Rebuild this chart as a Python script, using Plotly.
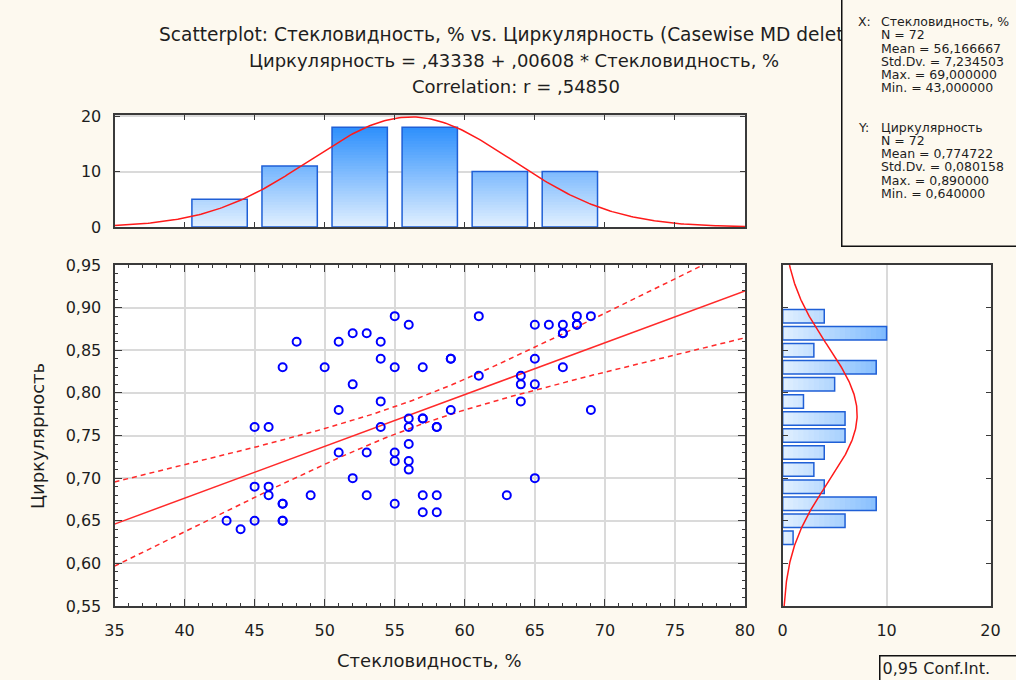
import numpy as np
import plotly.graph_objects as go

# ---------------- data ----------------
glass = [48, 51, 47, 50, 51, 45, 46, 51, 45, 46, 46, 49, 47, 43, 44, 45, 47,
         52, 53, 54, 55, 56, 54, 55, 57, 59, 52, 61, 61, 54, 54, 56, 56, 57, 58, 59,
         53, 55, 55, 56, 56, 56, 52, 53, 55, 57, 58, 57, 58,
         65, 66, 67, 67, 68, 68, 69, 65, 67, 64, 64, 65, 64, 69, 65, 63,
         47, 47, 59, 57, 58, 67, 68]
circ = [0.86, 0.86, 0.83, 0.83, 0.78, 0.76, 0.76, 0.73, 0.69, 0.69, 0.68, 0.68, 0.67, 0.65, 0.64, 0.65, 0.65,
        0.87, 0.87, 0.86, 0.89, 0.88, 0.84, 0.83, 0.83, 0.84, 0.81, 0.89, 0.82, 0.79, 0.76, 0.77, 0.76, 0.77, 0.76, 0.78,
        0.73, 0.73, 0.72, 0.74, 0.72, 0.71, 0.70, 0.68, 0.67, 0.68, 0.68, 0.66, 0.66,
        0.88, 0.88, 0.88, 0.87, 0.89, 0.88, 0.89, 0.84, 0.83, 0.82, 0.81, 0.81, 0.79, 0.78, 0.70, 0.68,
        0.67, 0.65, 0.84, 0.77, 0.76, 0.87, 0.88]

top_bin_centers = [42.5, 47.5, 52.5, 57.5, 62.5, 67.5]
top_counts = [5, 11, 18, 18, 10, 10]

right_bin_centers = [0.63, 0.65, 0.67, 0.69, 0.71, 0.73, 0.75, 0.77, 0.79, 0.81, 0.83, 0.85, 0.87, 0.89]
right_counts = [1, 6, 9, 4, 3, 4, 6, 6, 2, 5, 9, 3, 10, 4]

x_title = "Стекловидность, %"
y_title = "Циркулярность"
# first title line is cut by the statistics box in the original
title_lines = ["Scatterplot: Стекловидность, % vs. Циркулярность (Casewise MD delet",
               "Циркулярность = ,43338 + ,00608 * Стекловидность, %",
               "Correlation: r = ,54850"]
x_stats = ["N = 72", "Mean = 56,166667", "Std.Dv. = 7,234503", "Max. = 69,000000", "Min. = 43,000000"]
y_stats = ["N = 72", "Mean = 0,774722", "Std.Dv. = 0,080158", "Max. = 0,890000", "Min. = 0,640000"]
x_mean, x_sd = 56.166667, 7.234503
y_mean, y_sd = 0.774722, 0.080158
t_crit = 1.994

# ---------------- helpers ----------------
W, H = 1016, 680
BG = "#fdf9ef"
FONT = "DejaVu Sans"
TXT = "#1e1e1e"


def px(x):
    return x / W


def py(y):
    return 1 - y / H


def blend(t):
    c0 = np.array([226, 240, 255])
    c1 = np.array([24, 132, 252])
    c = c0 + (c1 - c0) * max(0.0, min(1.0, t))
    return "rgb(%d,%d,%d)" % tuple(int(round(v)) for v in c)


fig = go.Figure()

# ---------------- scatter + regression ----------------
gx = np.array(glass, float)
cy = np.array(circ, float)
n = len(gx)
slope, inter = np.polyfit(gx, cy, 1)
resid = cy - (inter + slope * gx)
s = np.sqrt(np.sum(resid ** 2) / (n - 2))
sxx = np.sum((gx - gx.mean()) ** 2)
xs = np.linspace(35, 80, 200)
yhat = inter + slope * xs
half = t_crit * s * np.sqrt(1 / n + (xs - gx.mean()) ** 2 / sxx)

RED = "#ff2a2a"
fig.add_trace(go.Scatter(x=xs, y=yhat + half, mode="lines", xaxis="x", yaxis="y",
                         line=dict(color=RED, width=1.5, dash="5px,4px"), hoverinfo="skip"))
fig.add_trace(go.Scatter(x=xs, y=yhat - half, mode="lines", xaxis="x", yaxis="y",
                         line=dict(color=RED, width=1.5, dash="5px,4px"), hoverinfo="skip"))
fig.add_trace(go.Scatter(x=xs, y=yhat, mode="lines", xaxis="x", yaxis="y",
                         line=dict(color=RED, width=1.5), hoverinfo="skip"))
fig.add_trace(go.Scatter(x=glass, y=circ, mode="markers", xaxis="x", yaxis="y",
                         marker=dict(symbol="circle-open", size=8, color="#0000ff",
                                     line=dict(width=2, color="#0000ff"))))

# ---------------- top histogram (vertical gradient bars) ----------------
# each gradient layer runs from its own level up to the bar top, later layers paint over
step = 0.5
seg_x, seg_base, seg_h, seg_c = [], [], [], []
for k in range(int(20.5 / step)):
    lo = k * step
    for xc, cnt in zip(top_bin_centers, top_counts):
        if cnt > lo:
            seg_x.append(xc)
            seg_base.append(lo)
            seg_h.append(cnt - lo)
            seg_c.append(blend((lo + step / 2) / 20))
fig.add_trace(go.Bar(x=seg_x, y=seg_h, base=seg_base, width=3.95, xaxis="x2", yaxis="y2",
                     marker=dict(color=seg_c, line=dict(width=0))))
fig.add_trace(go.Bar(x=top_bin_centers, y=top_counts, width=3.95, xaxis="x2", yaxis="y2",
                     marker=dict(color="rgba(0,0,0,0)", line=dict(width=1.5, color="#1f5fd6"))))
cx = np.linspace(35, 80, 300)
fig.add_trace(go.Scatter(x=cx, y=n * 5 * np.exp(-0.5 * ((cx - x_mean) / x_sd) ** 2) / (x_sd * np.sqrt(2 * np.pi)),
                         mode="lines", xaxis="x2", yaxis="y2", line=dict(color="#ff1a1a", width=1.5)))

# ---------------- right histogram (horizontal gradient bars) ----------------
seg_y, seg_base, seg_w, seg_c = [], [], [], []
for k in range(int(20.5 / step)):
    lo = k * step
    for yc, cnt in zip(right_bin_centers, right_counts):
        if cnt > lo:
            seg_y.append(yc)
            seg_base.append(lo)
            seg_w.append(cnt - lo)
            seg_c.append(blend((lo + step / 2) / 20))
fig.add_trace(go.Bar(y=seg_y, x=seg_w, base=seg_base, width=0.0158, orientation="h",
                     xaxis="x3", yaxis="y3", marker=dict(color=seg_c, line=dict(width=0))))
fig.add_trace(go.Bar(y=right_bin_centers, x=right_counts, width=0.0158, orientation="h",
                     xaxis="x3", yaxis="y3",
                     marker=dict(color="rgba(0,0,0,0)", line=dict(width=1.5, color="#1f5fd6"))))
cyv = np.linspace(0.55, 0.95, 300)
fig.add_trace(go.Scatter(y=cyv, x=n * 0.02 * np.exp(-0.5 * ((cyv - y_mean) / y_sd) ** 2) / (y_sd * np.sqrt(2 * np.pi)),
                         mode="lines", xaxis="x3", yaxis="y3", line=dict(color="#ff1a1a", width=1.5)))

# ---------------- axes ----------------
tickfont = dict(family=FONT, size=16, color=TXT)
frame = dict(showline=True, linecolor="#3a3a3a", linewidth=2, mirror="ticks", zeroline=False,
             ticks="inside", tickcolor="#3a3a3a", tickwidth=1, automargin=False)
grid = dict(showgrid=True, gridcolor="#dadada", gridwidth=1.5)
xdom = [px(114.5), px(745)]
ydom = [py(606), py(265)]

layout = dict(
    width=W, height=H, paper_bgcolor=BG, plot_bgcolor="white",
    margin=dict(l=0, r=0, t=0, b=0, pad=0, autoexpand=False), showlegend=False, barmode="overlay",
    separators=",.",
    xaxis=dict(domain=xdom, range=[35, 80], tick0=35, dtick=5, ticklen=7, anchor="y",
               tickfont=tickfont, ticklabelstandoff=9,
               minor=dict(ticks="inside", dtick=1, ticklen=3, tickcolor="#3a3a3a", showgrid=False),
               **frame, **grid),
    yaxis=dict(domain=ydom, range=[0.55, 0.95], tick0=0.55, dtick=0.05, tickformat=".2f", ticklen=7,
               anchor="x", tickfont=tickfont, ticklabelstandoff=8,
               minor=dict(ticks="inside", dtick=0.01, ticklen=3, tickcolor="#3a3a3a", showgrid=False),
               **frame, **grid),
    xaxis2=dict(domain=xdom, range=[35, 80], tick0=35, dtick=5, ticklen=5, anchor="y2",
                showticklabels=False, showgrid=False, **frame),
    yaxis2=dict(domain=[py(227), py(114.5)], range=[0, 20.3], dtick=10, ticklen=5, anchor="x2",
                tickfont=tickfont, ticklabelstandoff=8, **frame, **grid),
    xaxis3=dict(domain=[px(782.7), px(990.5)], range=[0, 20], dtick=10, ticklen=0, anchor="y3",
                tickfont=tickfont, ticklabelstandoff=9, **frame, **grid),
    yaxis3=dict(domain=ydom, range=[0.55, 0.95], tick0=0.55, dtick=0.05, ticklen=5, anchor="x3",
                showticklabels=False, showgrid=False, **frame),
)

# ---------------- texts ----------------
ann = []
tfont = dict(family=FONT, size=18, color=TXT)
ann.append(dict(text=title_lines[0], x=px(157), y=py(34), xanchor="left", yanchor="middle",
                xref="paper", yref="paper", showarrow=False, font=dict(family=FONT, size=18.6, color=TXT)))
ann.append(dict(text=title_lines[1], x=px(514), y=py(60), xanchor="center", yanchor="middle",
                xref="paper", yref="paper", showarrow=False, font=tfont))
ann.append(dict(text=title_lines[2], x=px(516), y=py(86), xanchor="center", yanchor="middle",
                xref="paper", yref="paper", showarrow=False, font=tfont))
ann.append(dict(text=x_title, x=px(429), y=py(660), xanchor="center", yanchor="middle",
                xref="paper", yref="paper", showarrow=False, font=tfont))
ann.append(dict(text=y_title, x=px(37), y=py(436), xanchor="center", yanchor="middle", textangle=-90,
                xref="paper", yref="paper", showarrow=False, font=tfont))
# stats box (drawn over the end of the first title line)
ann.append(dict(text=" ", x=px(841), y=py(-12), xanchor="left", yanchor="top", width=200, height=252,
                xref="paper", yref="paper", showarrow=False, bgcolor=BG, bordercolor="#111",
                borderwidth=1.5, borderpad=2))
sfont = dict(family=FONT, size=12.5, color=TXT)
ann.append(dict(text="X:", x=px(856), y=py(21.5), xanchor="left", yanchor="middle",
                xref="paper", yref="paper", showarrow=False, font=sfont))
ann.append(dict(text=x_title, x=px(879), y=py(21.5), xanchor="left", yanchor="middle",
                xref="paper", yref="paper", showarrow=False, font=sfont))
for i, t in enumerate(x_stats):
    ann.append(dict(text=t, x=px(879), y=py(34.8 + 13.3 * i), xanchor="left", yanchor="middle",
                    xref="paper", yref="paper", showarrow=False, font=sfont))
ann.append(dict(text="Y:", x=px(856), y=py(127), xanchor="left", yanchor="middle",
                xref="paper", yref="paper", showarrow=False, font=sfont))
ann.append(dict(text=y_title, x=px(879), y=py(127), xanchor="left", yanchor="middle",
                xref="paper", yref="paper", showarrow=False, font=sfont))
for i, t in enumerate(y_stats):
    ann.append(dict(text=t, x=px(879), y=py(140.3 + 13.3 * i), xanchor="left", yanchor="middle",
                    xref="paper", yref="paper", showarrow=False, font=sfont))
# legend box
ann.append(dict(text="0,95 Conf.Int.", x=px(879), y=py(655), xanchor="left", yanchor="top",
                width=150, height=30, align="left", valign="top",
                xref="paper", yref="paper", showarrow=False, bgcolor=BG, bordercolor="#111",
                borderwidth=1.5, borderpad=2, font=dict(family=FONT, size=16, color=TXT)))

layout["annotations"] = ann
fig.update_layout(**layout)
fig.write_html("out.html", config={"displayModeBar": False},
               post_script="document.body.style.margin='0px';document.body.style.background='%s';" % BG)
